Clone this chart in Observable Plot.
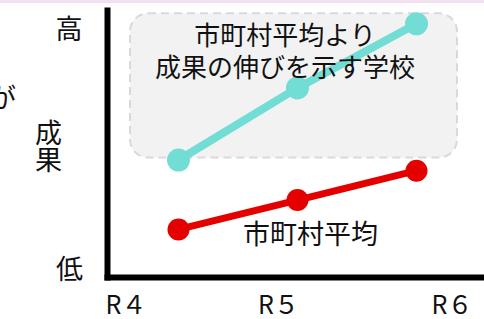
<!DOCTYPE html>
<html>
<head>
<meta charset="utf-8">
<script src="https://cdn.jsdelivr.net/npm/d3@7"></script>
<script src="https://cdn.jsdelivr.net/npm/@observablehq/plot@0.6"></script>
<style>
  html, body { margin: 0; padding: 0; background: #ffffff; }
  #band { height: 3px; background: #f3e0ef; }
  #chart svg { display: block; }
</style>
</head>
<body>
<div id="band"></div>
<div id="chart"></div>
<script>
// ---- data ----
const years = ["R４", "R５", "R６"];
const schoolValues = [44, 71, 95];   // 市町村平均より成果の伸びを示す学校
const averageValues = [18, 29, 40];  // 市町村平均
const boxLabel = "市町村平均より\n成果の伸びを示す学校";
const averageLabel = "市町村平均";
const yHighLabel = "高";
const yLowLabel = "低";
const yTitleChars = ["成", "果"];
const cutText = "が";

const rows = years.map((yr, i) => ({ i, yr, school: schoolValues[i], avg: averageValues[i] }));
const boxData = [{ x1: 0, x2: years.length - 1, y1: d3.min(schoolValues), y2: d3.max(schoolValues) }];

const teal = "#72ddd4";
const red = "#e50000";
const ink = "#111";
const font = "'Noto Sans CJK JP', 'Noto Sans', sans-serif";

const chart = Plot.plot({
  width: 484,
  height: 316,
  marginTop: 7,
  marginBottom: 42,
  marginLeft: 107,
  marginRight: 0,
  style: { fontFamily: font, background: "transparent", overflow: "visible" },
  x: { type: "linear", domain: [0, years.length - 1], insetLeft: 71, insetRight: 68, axis: null },
  y: { domain: [0, 100], axis: null },
  marks: [
    // highlight box
    Plot.rect(boxData, {
      x1: "x1", x2: "x2", y1: "y1", y2: "y2",
      insetLeft: -48, insetRight: -41, insetTop: -10, insetBottom: 2,
      rx: 18, fill: "#f2f2f2", stroke: "#d9d9d9", strokeWidth: 2, strokeDasharray: "8,5"
    }),
    // series
    Plot.line(rows, { x: "i", y: "school", stroke: teal, strokeWidth: 8 }),
    Plot.dot(rows, { x: "i", y: "school", r: 11.5, fill: teal }),
    Plot.line(rows, { x: "i", y: "avg", stroke: red, strokeWidth: 7 }),
    Plot.dot(rows, { x: "i", y: "avg", r: 11, fill: red }),
    // box label drawn over the line
    Plot.text([boxLabel], {
      text: d => d, frameAnchor: "top", dx: -11, dy: 40,
      fontSize: 26, lineHeight: 1.23, fill: ink, lineAnchor: "middle"
    }),
    Plot.text(rows.filter(d => d.i === 1), {
      x: "i", y: "avg", text: () => averageLabel, dx: 13, dy: 35,
      fontSize: 27, fill: ink, lineAnchor: "middle"
    }),
    // axes lines
    Plot.frame({ anchor: "left", stroke: "#000", strokeWidth: 6, strokeLinecap: "square" }),
    Plot.frame({ anchor: "bottom", stroke: "#000", strokeWidth: 6, strokeLinecap: "square" }),
    // y annotations
    Plot.text([yHighLabel], { text: d => d, frameAnchor: "top-left", dx: -38.5, dy: 19.5, fontSize: 27, fill: ink, lineAnchor: "middle", textAnchor: "middle" }),
    Plot.text([yLowLabel], { text: d => d, frameAnchor: "bottom-left", dx: -38, dy: -7, fontSize: 27, fill: ink, lineAnchor: "middle", textAnchor: "middle" }),
    Plot.text([yTitleChars[0]], { text: d => d, frameAnchor: "left", dx: -59, dy: -10, fontSize: 27, fill: ink, lineAnchor: "middle", textAnchor: "middle" }),
    Plot.text([yTitleChars[1]], { text: d => d, frameAnchor: "left", dx: -59, dy: 17.5, fontSize: 27, fill: ink, lineAnchor: "middle", textAnchor: "middle" }),
    Plot.text([cutText], { text: d => d, frameAnchor: "left", dx: -105, dy: -44.5, fontSize: 27, fill: ink, lineAnchor: "middle", textAnchor: "middle" }),
    // x tick labels
    Plot.text([years[0]], { text: d => d, frameAnchor: "bottom-left", dx: -2, dy: 28, fontSize: 25, fill: ink, lineAnchor: "middle", textAnchor: "start" }),
    Plot.text([years[1]], { text: d => d, frameAnchor: "bottom", dx: -17.5, dy: 28, fontSize: 25, fill: ink, lineAnchor: "middle", textAnchor: "middle" }),
    Plot.text([years[2]], { text: d => d, frameAnchor: "bottom-right", dx: -12, dy: 28, fontSize: 25, fill: ink, lineAnchor: "middle", textAnchor: "end" })
  ]
});
document.getElementById("chart").appendChild(chart);
</script>
</body>
</html>
